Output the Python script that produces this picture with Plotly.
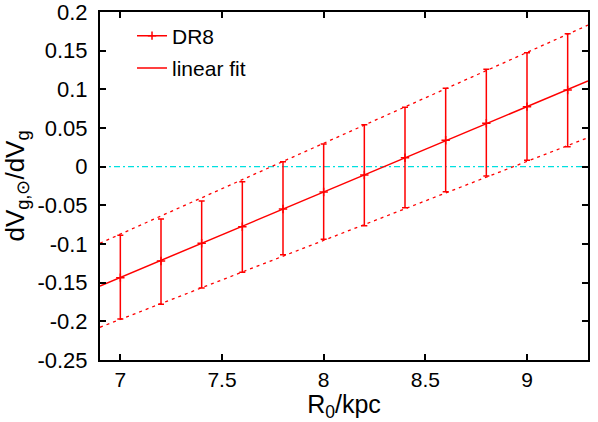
import plotly.graph_objects as go

# Data
r0 = [7.0, 7.2, 7.4, 7.6, 7.8, 8.0, 8.2, 8.4, 8.6, 8.8, 9.0, 9.2]
dr8 = [-0.1435, -0.122, -0.099, -0.0776, -0.0547, -0.0327, -0.0108, 0.0116, 0.0341, 0.0561, 0.0776, 0.0992]
dr8_upper = [-0.0888, -0.0677, -0.0444, -0.0194, 0.0065, 0.0294, 0.0543, 0.0768, 0.1014, 0.126, 0.1474, 0.172]
dr8_lower = [-0.197, -0.178, -0.157, -0.1366, -0.114, -0.094, -0.0763, -0.053, -0.0323, -0.012, 0.0082, 0.0259]

fit_x = [6.9, 9.3]
fit_y = [-0.1543, 0.1108]
fit_upper_y = [-0.099, 0.183]
fit_lower_y = [-0.2077, 0.0375]

zero_x = [6.9, 9.3]
zero_y = [0, 0]

x_ticks = [7, 7.5, 8, 8.5, 9]
y_ticks = [-0.25, -0.2, -0.15, -0.1, -0.05, 0, 0.05, 0.1, 0.15, 0.2]

RED = "#ff0000"
CYAN = "#00e0e0"
FONT = "Liberation Sans, Arial, Helvetica, sans-serif"

err_plus = [u - c for u, c in zip(dr8_upper, dr8)]
err_minus = [c - l for c, l in zip(dr8, dr8_lower)]

fig = go.Figure()

fig.add_trace(go.Scatter(
    x=zero_x, y=zero_y, mode="lines",
    line=dict(color=CYAN, width=1.2, dash="6px,3px,2px,3px"),
    showlegend=False, hoverinfo="skip"))

fig.add_trace(go.Scatter(
    x=fit_x, y=fit_upper_y, mode="lines",
    line=dict(color=RED, width=1.3, dash="3px,4px"),
    showlegend=False))
fig.add_trace(go.Scatter(
    x=fit_x, y=fit_lower_y, mode="lines",
    line=dict(color=RED, width=1.3, dash="3px,4px"),
    showlegend=False))

fig.add_trace(go.Scatter(
    x=r0, y=dr8, mode="markers",
    marker=dict(symbol="cross-thin", size=6, line=dict(color=RED, width=1.5), color=RED),
    error_y=dict(type="data", symmetric=False, array=err_plus, arrayminus=err_minus,
                 color=RED, thickness=1.5, width=3),
    name="DR8", showlegend=False))

# legend entry for DR8
fig.add_trace(go.Scatter(
    x=[None], y=[None], mode="lines+markers",
    line=dict(color=RED, width=1.5),
    marker=dict(symbol="cross-thin", size=6, line=dict(color=RED, width=1.5), color=RED),
    name="DR8", legendgroup="a"))

fig.add_trace(go.Scatter(
    x=fit_x, y=fit_y, mode="lines",
    line=dict(color=RED, width=1.5),
    name="linear fit", legendgroup="b"))

axis_common = dict(
    showline=True, linecolor="black", linewidth=2, mirror="ticks",
    ticks="inside", ticklen=6, tickwidth=1.5, tickcolor="black",
    showgrid=False, zeroline=False, automargin=False,
    ticklabeloverflow="allow",
)

fig.update_layout(
    width=598, height=422,
    margin=dict(l=100, r=10, t=12, b=62),
    paper_bgcolor="white", plot_bgcolor="white",
    font=dict(family=FONT, color="black"),
    xaxis=dict(range=[6.9, 9.3], tickvals=x_ticks, ticktext=[str(v) for v in x_ticks],
               ticklabelstandoff=0,
               tickfont=dict(family=FONT, size=21, color="black"),
               title=dict(text="R<sub>0</sub>/kpc", font=dict(size=25), standoff=0),
               **axis_common),
    yaxis=dict(range=[-0.25, 0.2], tickvals=y_ticks,
               ticktext=[("%g" % v) for v in y_ticks],
               ticklabelstandoff=6,
               tickfont=dict(family=FONT, size=22, color="black"),
               title=dict(text="dV<sub>g,⊙</sub>/dV<sub>g</sub>", font=dict(size=26), standoff=14),
               **axis_common),
    legend=dict(x=0.0656, y=0.99, xanchor="left", yanchor="top",
                bgcolor="rgba(0,0,0,0)", font=dict(size=21, family=FONT),
                traceorder="grouped", tracegroupgap=2),
)

fig.write_html("out.html", config={"displayModeBar": False},
               post_script="document.body.style.margin='0';document.body.style.padding='0';")
